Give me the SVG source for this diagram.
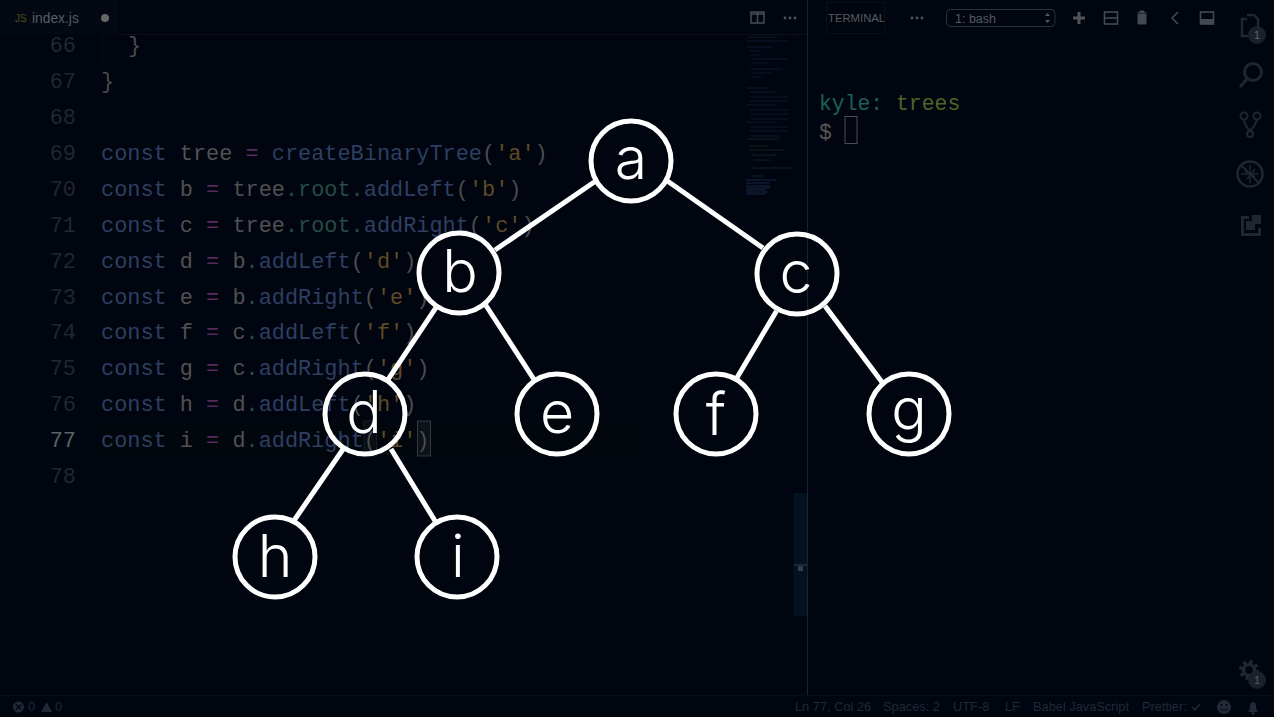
<svg xmlns="http://www.w3.org/2000/svg" width="1274" height="717" viewBox="0 0 1274 717">
<style>
.mono{font-family:"Liberation Mono","DejaVu Sans Mono",monospace;font-size:21.9px;white-space:pre}
.num{fill:#22262e;text-anchor:end}
.k{fill:#2d3f62}.v{fill:#505152}.o{fill:#552a5c}.g{fill:#264c44}.s{fill:#5e4a26}.p{fill:#4a4c4e}
.ui{font-family:"Liberation Sans",Arial,sans-serif}
.st{font-family:"Liberation Sans",Arial,sans-serif;font-size:12.8px;fill:#222836}
.ico{fill:none;stroke:#44494f;stroke-width:1.6}
.act{fill:none;stroke:#20262f;stroke-width:3}
.edge{stroke:#fff;stroke-width:5;stroke-linecap:butt;fill:none}
.circ{fill:none;stroke:#fff;stroke-width:5}
.lab{font-family:Inter,"Open Sans",sans-serif;font-weight:300;font-size:59px;fill:#fff;text-anchor:middle}
.mm{fill:none;stroke-width:1}
</style>
<rect width="1274" height="717" fill="#01050f"/>
<g id="editor-chrome">
<rect x="0" y="0" width="118" height="34" fill="#030812"/>
<line x1="118" y1="34.5" x2="807" y2="34.5" stroke="#100e17"/>
<text x="15" y="22" class="ui" font-size="10" fill="#50501f">JS</text>
<text x="32" y="23" class="ui" font-size="13.800" fill="#565d66">index.js</text>
<circle cx="105" cy="18" r="4" fill="#666"/>
<rect x="751" y="12" width="13" height="11" class="ico"/><line x1="757.5" y1="12" x2="757.5" y2="23" class="ico"/><line x1="751" y1="14" x2="764" y2="14" class="ico"/>
<g fill="#505458"><circle cx="785" cy="18" r="1.4"/><circle cx="790" cy="18" r="1.4"/><circle cx="795" cy="18" r="1.4"/></g>
<line x1="807.5" y1="0" x2="807.5" y2="695" stroke="#1a222d"/>
<line x1="102.5" y1="36" x2="102.5" y2="62" stroke="#0a0d14"/>
<rect x="100" y="421" width="540" height="36" fill="#02060d"/>
<rect x="364" y="421" width="12.5" height="35" fill="#090e15" stroke="#181c22"/>
<rect x="417.5" y="421" width="13" height="35" fill="#0d1319" stroke="#33393f"/>
</g>
<g id="code">
<text x="76" y="52.4" class="mono num">66</text>
<text x="76" y="88.3" class="mono num">67</text>
<text x="76" y="124.1" class="mono num">68</text>
<text x="76" y="160" class="mono num">69</text>
<text x="76" y="195.9" class="mono num">70</text>
<text x="76" y="231.7" class="mono num">71</text>
<text x="76" y="267.6" class="mono num">72</text>
<text x="76" y="303.5" class="mono num">73</text>
<text x="76" y="339.3" class="mono num">74</text>
<text x="76" y="375.2" class="mono num">75</text>
<text x="76" y="411.1" class="mono num">76</text>
<text x="76" y="447" style="fill:#5e6262" class="mono num">77</text>
<text x="76" y="482.8" class="mono num">78</text>
<text x="128" y="52.4" class="mono p">}</text>
<text x="101" y="88.3" class="mono p">}</text>
<text x="101" y="160" class="mono"><tspan class="k">const</tspan> <tspan class="v">tree</tspan> <tspan class="o">=</tspan> <tspan class="k">createBinaryTree</tspan><tspan class="p">(</tspan><tspan class="s">'a'</tspan><tspan class="p">)</tspan></text>
<text x="101" y="195.9" class="mono"><tspan class="k">const</tspan> <tspan class="v">b</tspan> <tspan class="o">=</tspan> <tspan class="v">tree</tspan><tspan class="g">.root.</tspan><tspan class="k">addLeft</tspan><tspan class="p">(</tspan><tspan class="s">'b'</tspan><tspan class="p">)</tspan></text>
<text x="101" y="231.7" class="mono"><tspan class="k">const</tspan> <tspan class="v">c</tspan> <tspan class="o">=</tspan> <tspan class="v">tree</tspan><tspan class="g">.root.</tspan><tspan class="k">addRight</tspan><tspan class="p">(</tspan><tspan class="s">'c'</tspan><tspan class="p">)</tspan></text>
<text x="101" y="267.6" class="mono"><tspan class="k">const</tspan> <tspan class="v">d</tspan> <tspan class="o">=</tspan> <tspan class="v">b</tspan><tspan class="g">.</tspan><tspan class="k">addLeft</tspan><tspan class="p">(</tspan><tspan class="s">'d'</tspan><tspan class="p">)</tspan></text>
<text x="101" y="303.5" class="mono"><tspan class="k">const</tspan> <tspan class="v">e</tspan> <tspan class="o">=</tspan> <tspan class="v">b</tspan><tspan class="g">.</tspan><tspan class="k">addRight</tspan><tspan class="p">(</tspan><tspan class="s">'e'</tspan><tspan class="p">)</tspan></text>
<text x="101" y="339.3" class="mono"><tspan class="k">const</tspan> <tspan class="v">f</tspan> <tspan class="o">=</tspan> <tspan class="v">c</tspan><tspan class="g">.</tspan><tspan class="k">addLeft</tspan><tspan class="p">(</tspan><tspan class="s">'f'</tspan><tspan class="p">)</tspan></text>
<text x="101" y="375.2" class="mono"><tspan class="k">const</tspan> <tspan class="v">g</tspan> <tspan class="o">=</tspan> <tspan class="v">c</tspan><tspan class="g">.</tspan><tspan class="k">addRight</tspan><tspan class="p">(</tspan><tspan class="s">'g'</tspan><tspan class="p">)</tspan></text>
<text x="101" y="411.1" class="mono"><tspan class="k">const</tspan> <tspan class="v">h</tspan> <tspan class="o">=</tspan> <tspan class="v">d</tspan><tspan class="g">.</tspan><tspan class="k">addLeft</tspan><tspan class="p">(</tspan><tspan class="s">'h'</tspan><tspan class="p">)</tspan></text>
<text x="101" y="447" class="mono"><tspan class="k">const</tspan> <tspan class="v">i</tspan> <tspan class="o">=</tspan> <tspan class="v">d</tspan><tspan class="g">.</tspan><tspan class="k">addRight</tspan><tspan class="p">(</tspan><tspan class="s">'i'</tspan><tspan class="p">)</tspan></text>
</g>
<g id="minimap">
<path d="M747 37h30M747 41h40M747 47h25M749 51h12M751 55h8M752 59h36M752 63h16M750 69h32M752 73h20M752 77h10M747 88h22M750 92h26M750 97h38M750 101h38M747 105h30M750 110h38M750 114h38M750 119h38M747 122h30M750 127h38M750 131h38M750 136h30" stroke="#0f1a30" class="mm"/>
<path d="M747 139h32M749 146h18M750 150h34M752 155h24M754 160h16M752 168h40M752 176h12" stroke="#122420" class="mm"/>
<path d="M746 180h30M746 183h24M746 186h24M746 188h24M746 190h20M746 192h22M746 194h20" stroke="#182545" class="mm"/>
<line x1="793.5" y1="35" x2="793.5" y2="695" stroke="#050810"/>
</g>
<g id="scrollbar">
<rect x="794" y="493" width="13" height="123" fill="#031222"/>
<rect x="794" y="564" width="13" height="2" fill="#1c2832"/>
<rect x="798" y="566" width="5" height="5" fill="#343e46"/>
</g>
<g id="terminal-bar">
<rect x="826.500" y="2.500" width="58" height="31" fill="#01050e" stroke="#0b1018"/>
<text x="828" y="22" class="ui" font-size="11.300" fill="#565a5e">TERMINAL</text>
<g fill="#505458"><circle cx="912" cy="18" r="1.4"/><circle cx="917" cy="18" r="1.4"/><circle cx="922" cy="18" r="1.4"/></g>
<rect x="946.500" y="9.500" width="108.500" height="17" rx="4" fill="none" stroke="#2c3238"/>
<text x="955" y="23" class="ui" font-size="12.500" fill="#565a5e">1: bash</text>
<path d="M1045 16l2.500-3 2.500 3zM1045 20l2.500 3 2.500-3z" fill="#565a5e"/>
<path d="M1073 16.500h4.500v-4.500h3v4.500h4.500v3h-4.500v4.500h-3v-4.500h-4.500z" fill="#505458"/>
<rect x="1104.500" y="12" width="13" height="12" class="ico"/><line x1="1104" y1="18" x2="1118" y2="18" class="ico"/>
<path d="M1137 13h10M1140 13v-2h4v2M1138 14.500h8v9.500h-8z" fill="#44494f" stroke="#44494f"/>
<path d="M1178 12l-6 6 6 6" class="ico"/>
<rect x="1200.500" y="12" width="13" height="12" class="ico"/><rect x="1200.500" y="19" width="13" height="5" fill="#44494f"/>
</g>
<g id="terminal">
<text x="819" y="110" class="mono" style="font-size:21.400px"><tspan fill="#1a6258">kyle:</tspan> <tspan fill="#4e6428">trees</tspan></text>
<text x="819" y="139" class="mono" style="font-size:21.400px" fill="#575757">$</text>
<rect x="845" y="116.500" width="12" height="27" fill="none" stroke="#4e4e4e"/>
</g>
<g id="activity-bar">
<path d="M1247 15h7l4 4v9M1248 36h-6v-17h5" class="act" style="stroke-width:2.500"/>
<circle cx="1257" cy="35" r="9" fill="#1a212b"/><text x="1257" y="39" text-anchor="middle" class="ui" font-size="11" fill="#62666a">1</text>
<circle cx="1253" cy="72" r="8.500" class="act"/><line x1="1247" y1="79" x2="1240" y2="87" class="act"/>
<circle cx="1244" cy="116" r="3.500" class="act" style="stroke-width:2"/><circle cx="1257" cy="116" r="3.500" class="act" style="stroke-width:2"/><circle cx="1250" cy="134" r="3" class="act" style="stroke-width:2"/><path d="M1244 120q1 6 6 11q5-5 7-11" class="act" style="stroke-width:2"/>
<circle cx="1250" cy="174" r="12.500" class="act" style="stroke-width:2.500"/><line x1="1241" y1="165" x2="1259" y2="183" class="act" style="stroke-width:2"/><path d="M1245 171l10 6M1255 169l-8 10M1250 165v18M1241 174h18" stroke="#20262f" stroke-width="1.500"/>
<path d="M1241 216h8v3h-5v14h14v-5h3v8h-20zM1252 215h9v9h-9z" fill="#20262f"/><rect x="1246" y="221" width="9" height="9" fill="#20262f"/>
<circle cx="1249" cy="670" r="5.500" fill="none" stroke="#20262f" stroke-width="3.500"/><circle cx="1249" cy="670" r="8.500" fill="none" stroke="#20262f" stroke-width="3" stroke-dasharray="3.500 3.170"/>
<circle cx="1257" cy="680" r="9" fill="#1a212b"/><text x="1257" y="684" text-anchor="middle" class="ui" font-size="11" fill="#565a5e">1</text>
</g>
<g id="status-bar">
<line x1="0" y1="695.500" x2="1274" y2="695.500" stroke="#0a0d15"/>
<circle cx="18.500" cy="707" r="5.500" fill="#222836"/><path d="M16 704.500l5 5M21 704.500l-5 5" stroke="#01050f" stroke-width="1.200"/>
<text x="28" y="711" class="st">0</text>
<path d="M41 712l5.500-10 5.500 10z" fill="#222836"/>
<text x="55" y="711" class="st">0</text>
<text x="795" y="711" class="st">Ln 77, Col 26</text>
<text x="883" y="711" class="st">Spaces: 2</text>
<text x="953" y="711" class="st">UTF-8</text>
<text x="1005" y="711" class="st">LF</text>
<text x="1033" y="711" class="st">Babel JavaScript</text>
<text x="1142" y="711" class="st">Prettier:</text>
<path d="M1192 707l3 3 5-6" fill="none" stroke="#222836" stroke-width="1.500"/>
<circle cx="1224" cy="707" r="7" fill="#222836"/><circle cx="1221.500" cy="705" r="1" fill="#01050f"/><circle cx="1226.500" cy="705" r="1" fill="#01050f"/><path d="M1220.500 708.500q3.500 3.500 7 0" fill="none" stroke="#01050f"/>
<path d="M1248 712q2-2 2-6q0-4 3-4q3 0 3 4q0 4 2 6z" fill="#222836"/><circle cx="1253" cy="713.500" r="1.500" fill="#222836"/>
</g>
<g id="connectors">
<line class="edge" x1="595" y1="181.500" x2="495" y2="250"/>
<line class="edge" x1="666" y1="180" x2="763" y2="248"/>
<line class="edge" x1="436.300" y1="307.100" x2="387.800" y2="379.900"/>
<line class="edge" x1="485" y1="304" x2="535" y2="381"/>
<line class="edge" x1="776.500" y1="311" x2="736.500" y2="378.500"/>
<line class="edge" x1="825" y1="306" x2="883.400" y2="384"/>
<line class="edge" x1="343.200" y1="449" x2="293" y2="522"/>
<line class="edge" x1="391" y1="449" x2="436" y2="522.500"/>
</g>
<g id="node-a"><circle class="circ" cx="631" cy="161" r="40"/><text class="lab" x="631" y="179">a</text></g>
<g id="node-b"><circle class="circ" cx="459" cy="273" r="40"/><text class="lab" x="460" y="292">b</text></g>
<g id="node-c"><circle class="circ" cx="797" cy="274" r="40"/><text class="lab" x="796" y="293">c</text></g>
<g id="node-d"><circle class="circ" cx="365" cy="414" r="40"/><text class="lab" x="364" y="433">d</text></g>
<g id="node-e"><circle class="circ" cx="557" cy="414" r="40"/><text class="lab" x="557" y="433">e</text></g>
<g id="node-f"><circle class="circ" cx="716" cy="414" r="40"/><text class="lab" x="716" y="435">f</text></g>
<g id="node-g"><circle class="circ" cx="909" cy="414" r="40"/><text class="lab" x="909" y="430">g</text></g>
<g id="node-h"><circle class="circ" cx="275" cy="557" r="40"/><text class="lab" x="275" y="577">h</text></g>
<g id="node-i"><circle class="circ" cx="457" cy="557" r="40"/><text class="lab" x="458" y="577">i</text></g>
</svg>
